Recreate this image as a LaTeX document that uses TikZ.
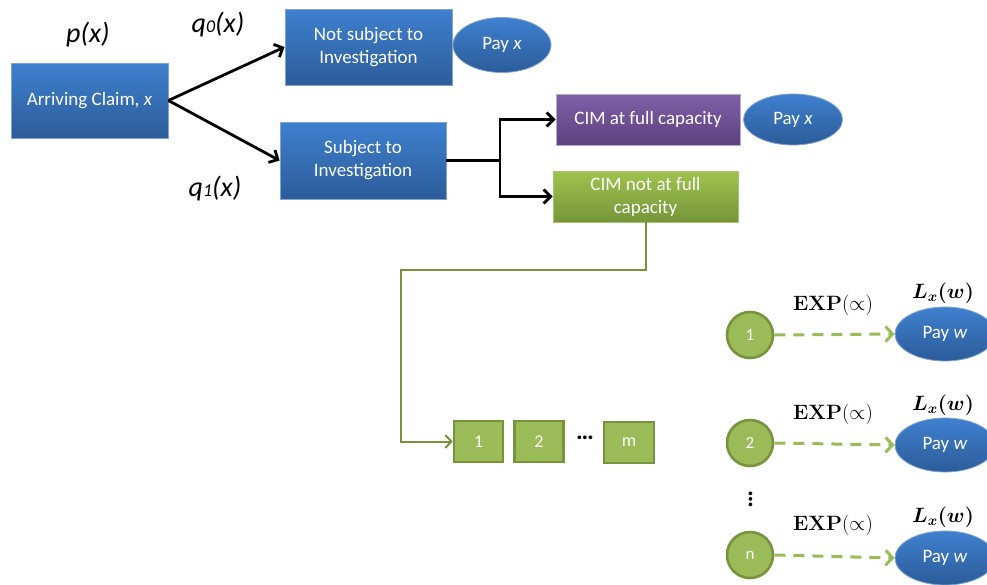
\documentclass[tikz,border=0pt]{standalone}
\usepackage{bm}
\usepackage[no-math]{fontspec}
\setmainfont{Carlito}
\usetikzlibrary{shapes.geometric,arrows.meta,calc}
\definecolor{bluetop}{HTML}{3F80CF}
\definecolor{bluebot}{HTML}{2C5C99}
\definecolor{blueedge}{HTML}{7FA3D3}
\definecolor{purtop}{HTML}{8060A8}
\definecolor{purbot}{HTML}{5E407F}
\definecolor{puredge}{HTML}{B9A8CF}
\definecolor{grtop}{HTML}{9FC34E}
\definecolor{grbot}{HTML}{76953A}
\definecolor{gredge}{HTML}{A9C46F}
\definecolor{grfill}{HTML}{9BBB59}
\definecolor{grdark}{HTML}{77933C}
\tikzset{
  bluebox/.style={rectangle, top color=bluetop, bottom color=bluebot, draw=blueedge, line width=0.8pt,
    text=white, align=center, inner sep=0pt, font=\fontsize{19}{23}\selectfont},
  purbox/.style={bluebox, top color=purtop, bottom color=purbot, draw=puredge},
  grbox/.style={bluebox, top color=grtop, bottom color=grbot, draw=gredge},
  payell/.style={ellipse, top color=bluetop, bottom color=bluebot, draw=blueedge, line width=0.8pt,
    text=white, inner sep=0pt, font=\fontsize{19}{23}\selectfont},
  sqbox/.style={rectangle, fill=grfill, draw=grdark, line width=2.6pt, text=white, inner sep=0pt,
    minimum width=49pt, minimum height=41pt, font=\fontsize{18}{21}\selectfont},
  srv/.style={circle, fill=grfill, draw=grdark, line width=2.6pt, text=white, inner sep=0pt,
    minimum size=46pt, font=\fontsize{17}{20}\selectfont},
  blk/.style={draw=black, line width=2.8pt, -{Straight Barb[length=7pt,width=14pt,line width=2.8pt]}},
  grline/.style={draw=grdark, line width=2pt, -{Straight Barb[length=6pt,width=13pt,line width=2pt]}},
  dashar/.style={draw=grfill, line width=3pt, dash pattern=on 11pt off 8pt,
    -{Straight Barb[length=7pt,width=15pt,line width=3pt]}},
  biglab/.style={font=\fontsize{28}{32}\selectfont\itshape},
  mlab/.style={font=\fontsize{20}{23}\selectfont},
  dots/.style={font=\fontsize{25}{25}\selectfont\bfseries, inner sep=0pt},
}
\begin{document}
\begin{tikzpicture}[x=1pt,y=-1pt]
\clip (0,0) rectangle (987,584);
\fill[white] (0,0) rectangle (987,584);

% labels
\node[biglab] (px) at (88,35) {p(x)};
\node[biglab] (q0) at (218,25) {q{\fontsize{18}{18}\selectfont 0}(x)};
\node[biglab] (q1) at (215,189) {q{\fontsize{18}{18}\selectfont 1}(x)};

% main boxes
\node[bluebox, minimum width=157pt, minimum height=75pt] (arr) at (89.5,100.5) {Arriving Claim, \textit{x}};
\node[bluebox, minimum width=167pt, minimum height=76pt] (ns) at (368.5,47) {Not subject to\\Investigation};
\node[payell, minimum width=98pt, minimum height=55pt] (pay1) at (502,45) {Pay \textit{x}};
\node[bluebox, minimum width=166pt, minimum height=77pt] (sub) at (363,160.5) {Subject to\\Investigation};
\node[purbox, minimum width=184pt, minimum height=51pt] (cim1) at (648,119.5) {CIM at full capacity};
\node[payell, minimum width=99pt, minimum height=51pt] (pay2) at (793,119.5) {Pay \textit{x}};
\node[grbox, minimum width=185pt, minimum height=51pt] (cim2) at (645.5,196.5) {CIM not at full\\capacity};

% black arrows
\draw[blk] (arr.east) -- (ns.west);
\draw[blk] (arr.east) -- (sub.west);
\coordinate (j) at (500,160.5);
\draw[draw=black, line width=2.8pt] (sub.east) -- (j);
\draw[blk] (j) |- (cim1.west);
\draw[blk] (j) |- (cim2.west);

% queue
\node[sqbox] (s1) at (478.5,441.5) {1};
\node[sqbox] (s2) at (539,441.5) {2};
\node[dots] (sd) at (585,438) {…};
\node[sqbox, minimum width=50pt] (sm) at (629,442.5) {m};

\coordinate (g1) at (401,270);
\draw[grline] (cim2.south) |- (g1) |- (s1.west);

% servers
\node[srv] (c1) at (750,335) {1};
\node[srv] (c2) at (750,443) {2};
\node[srv] (cn) at (750,555) {n};
\node[dots, rotate=-90] (vd) at (750.5,499) {…};

\node[payell, minimum width=100pt, minimum height=54pt] (e1) at (945,334) {Pay \textit{w}};
\node[payell, minimum width=100pt, minimum height=54pt] (e2) at (945,445) {Pay \textit{w}};
\node[payell, minimum width=100pt, minimum height=54pt] (en) at (945,558) {Pay \textit{w}};

\draw[dashar] (c1.east) -- (e1.west);
\draw[dashar] (c2.east) -- (e2.west);
\draw[dashar] (cn.east) -- (en.west);

\node[mlab] (x1) at (833,305) {$\mathbf{EXP}(\propto)$};
\node[mlab] (x2) at (833,414) {$\mathbf{EXP}(\propto)$};
\node[mlab] (x3) at (833,525) {$\mathbf{EXP}(\propto)$};
\node[mlab] (lw1) at (943,293) {$\bm{L_x(w)}$};
\node[mlab] (lw2) at (943,405) {$\bm{L_x(w)}$};
\node[mlab] (lw3) at (943,517) {$\bm{L_x(w)}$};
\end{tikzpicture}
\end{document}
